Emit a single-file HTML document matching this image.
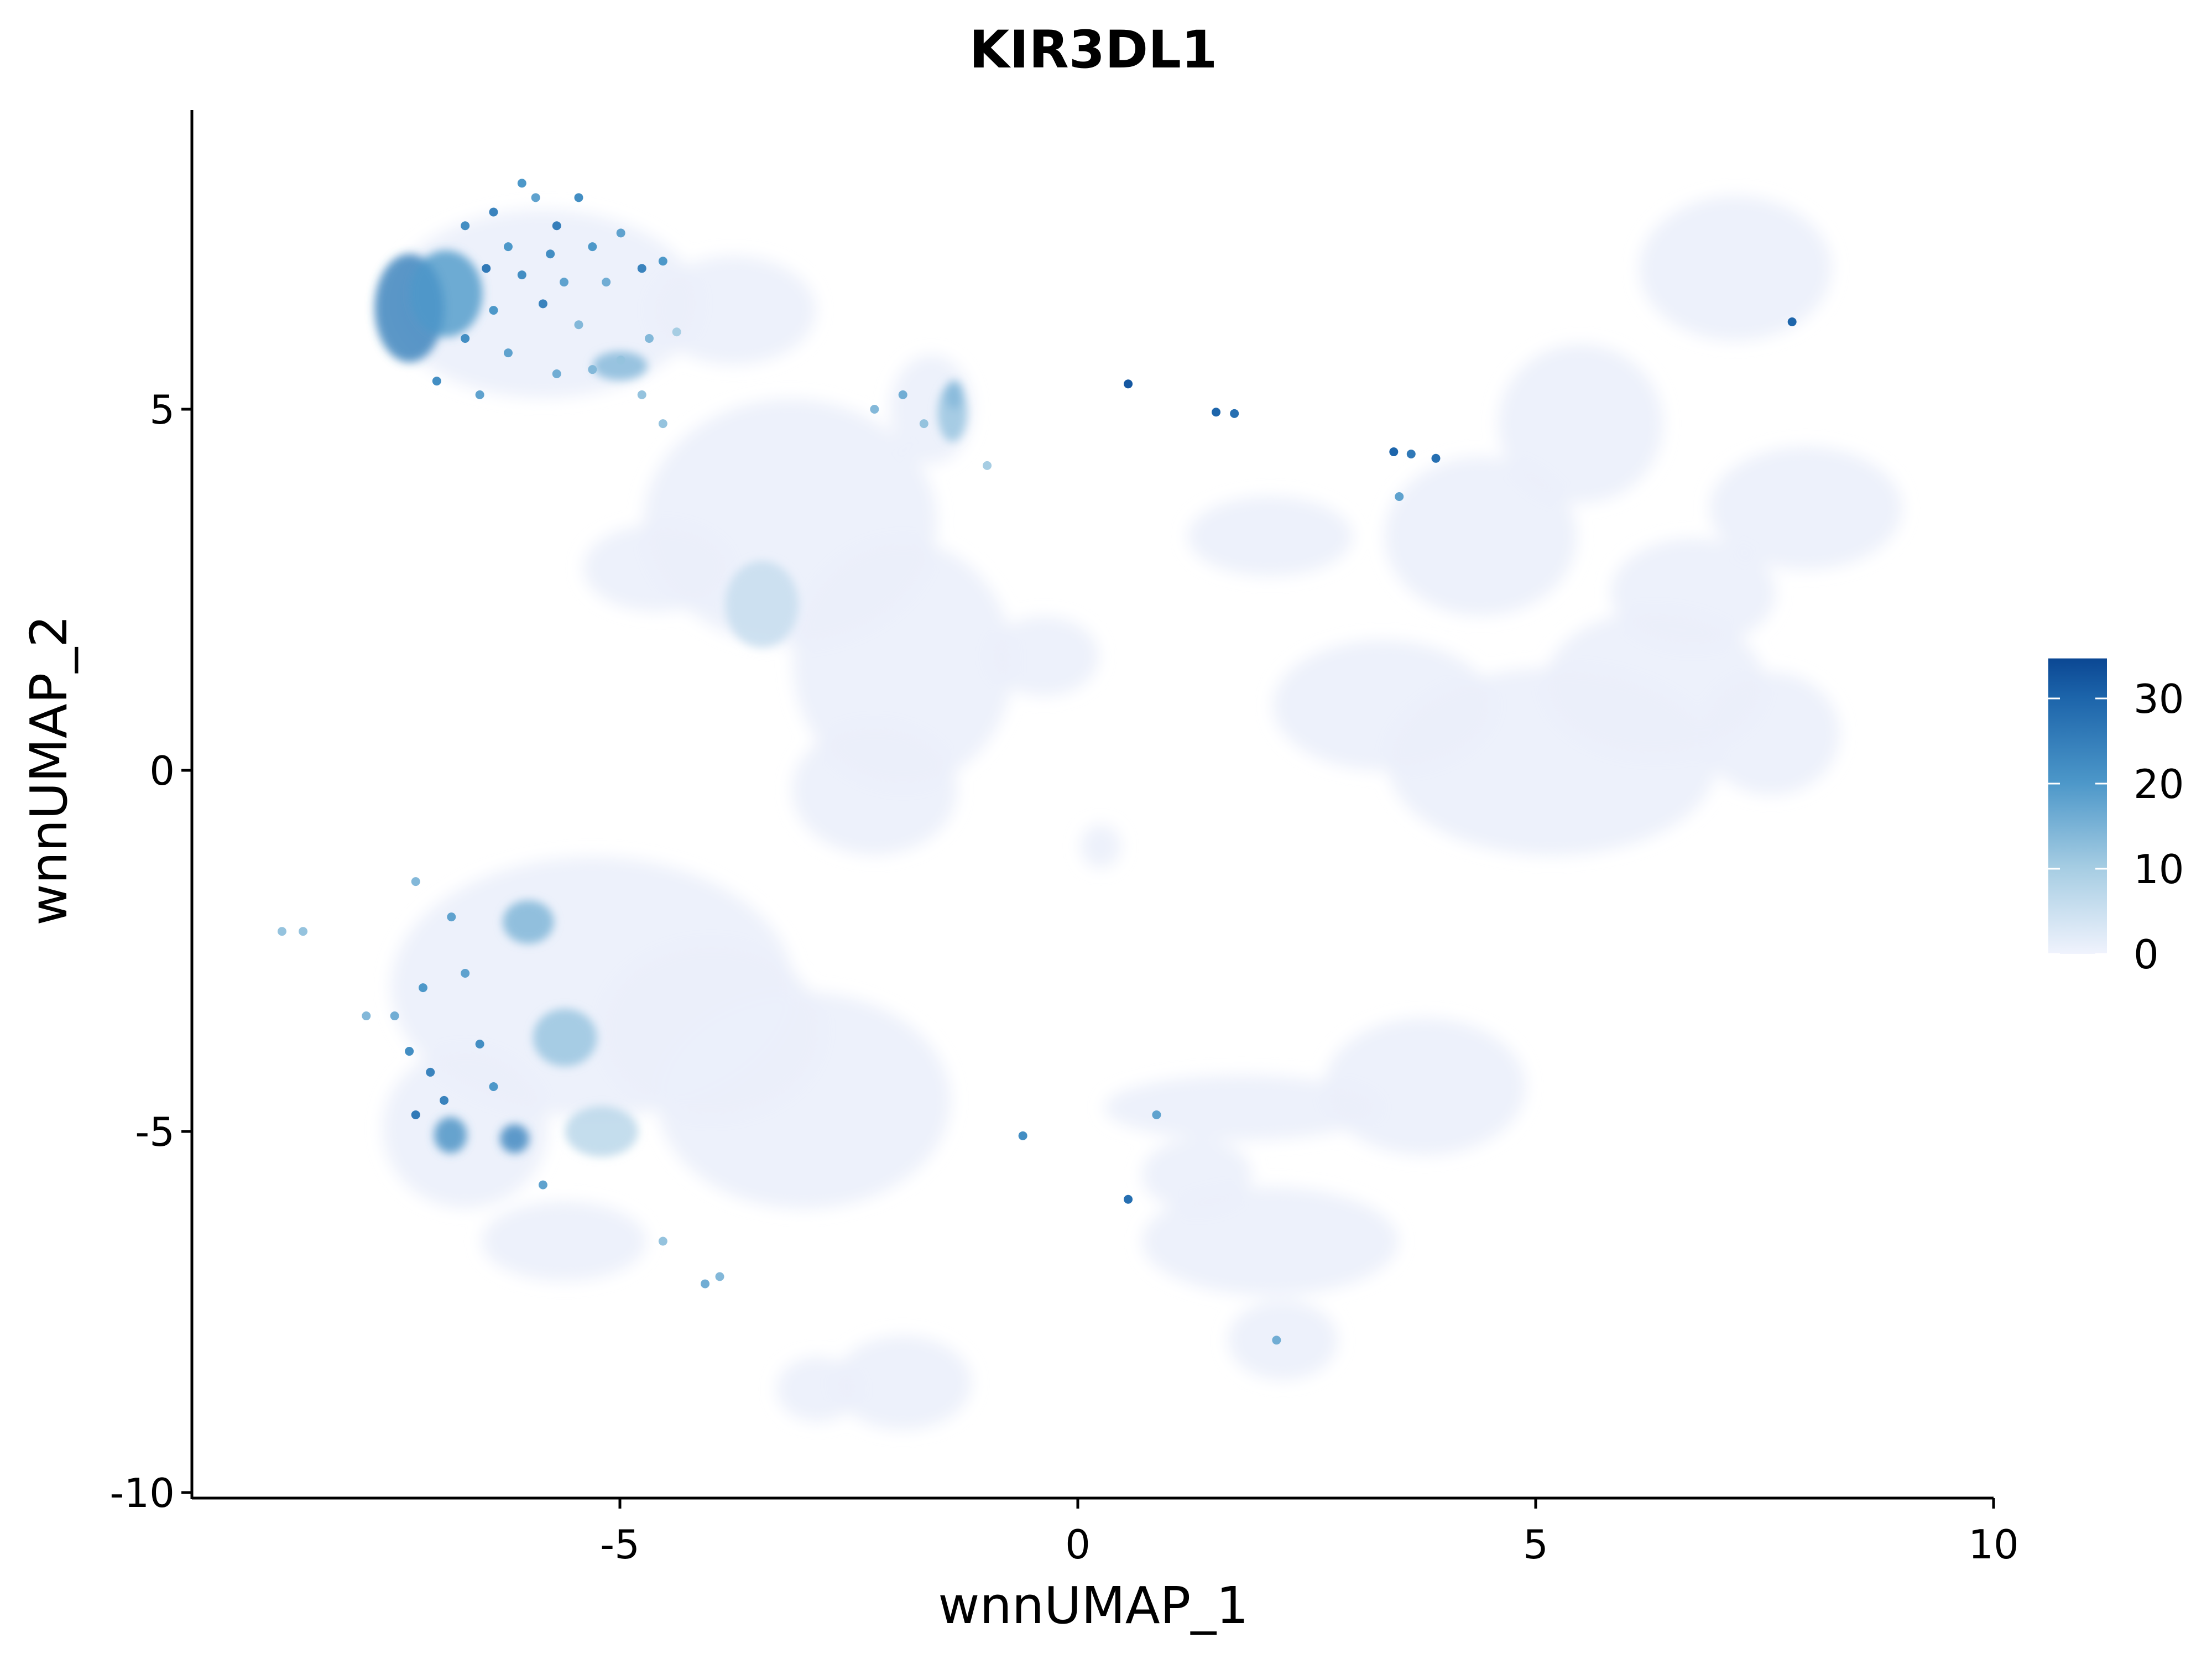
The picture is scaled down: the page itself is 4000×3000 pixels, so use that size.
<!DOCTYPE html>
<html><head><meta charset="utf-8"><style>
html,body{margin:0;padding:0;background:#fff}
svg{display:block}
text{font-family:"DejaVu Sans","Liberation Sans",sans-serif;fill:#000}
</style></head><body>
<svg id="chart" width="4000" height="3000" viewBox="0 0 4000 3000">
<defs>
<linearGradient id="cbar" x1="0" y1="1" x2="0" y2="0">
<stop offset="0" stop-color="#f0f3fd"/><stop offset="0.29" stop-color="#a6cde3"/>
<stop offset="0.58" stop-color="#4c97c9"/><stop offset="0.87" stop-color="#1c64aa"/><stop offset="1" stop-color="#0b4793"/>
</linearGradient>
<filter id="soft" x="-20%" y="-20%" width="140%" height="140%"><feGaussianBlur stdDeviation="14"/></filter>
<filter id="soft2" x="-30%" y="-30%" width="160%" height="160%"><feGaussianBlur stdDeviation="8"/></filter>
</defs>
<text x="1977" y="122" text-anchor="middle" font-size="94" font-weight="bold">KIR3DL1</text>
<g id="bg" filter="url(#soft)"></g>
<g id="hot" filter="url(#soft2)"></g>
<g id="pts"></g>
<g id="axes"></g>
<text x="1977" y="2935" text-anchor="middle" font-size="92">wnnUMAP_1</text>
<text transform="translate(120,1393) rotate(-90)" text-anchor="middle" font-size="92">wnnUMAP_2</text>
<g id="legend"></g>
</svg>
<script>
const xTicks=[-5,0,5,10];
const yTicks=[5,0,-5,-10];
const legendTicks=[0,10,20,30];
const legendMax=34.7;
// background clusters: x, y, rx, ry (data units)
const bgX=[-5.84,-3.14,-1.91,-2.22,-0.37,-1.6,-3.76,-4.6,7.18,7.95,5.18,7.57,3.33,5.49,6.72,2.1,4.4,-5.3,-2.99,-5.61,-1.91,-2.84,-6.69,-4.0,3.79,1.79,2.1,2.24,0.25,6.3,1.3];
const bgY=[6.46,3.44,1.48,-0.27,1.58,5.0,6.37,2.8,6.95,3.63,0.12,0.51,0.9,4.8,2.46,3.24,3.24,-3.0,-4.57,-6.52,-8.48,-8.57,-4.96,-3.6,-4.38,-4.67,-6.52,-7.89,-1.05,1.2,-5.6];
const bgRx=[1.7,1.6,1.2,0.9,0.6,0.45,0.9,0.8,1.05,1.05,1.8,0.75,1.2,0.9,0.9,0.9,1.05,2.2,1.6,0.9,0.75,0.45,0.9,1.2,1.1,1.5,1.4,0.6,0.22,1.2,0.6];
const bgRy=[1.3,1.7,1.7,0.9,0.55,0.75,0.75,0.6,1.0,0.85,1.3,0.85,0.9,1.1,0.75,0.55,1.1,1.8,1.5,0.55,0.65,0.45,1.1,1.2,0.95,0.45,0.75,0.55,0.3,1.0,0.5];
// expression hotspots: x, y, rx, ry, value
const hotX=[-7.3,-6.9,-6.0,-5.6,-6.85,-6.15,-5.2,-3.45,-1.37,-5.0,-1.35];
const hotY=[6.4,6.6,-2.1,-3.7,-5.05,-5.1,-5.0,2.3,4.95,5.6,5.2];
const hotRx=[0.38,0.4,0.28,0.35,0.18,0.16,0.4,0.4,0.16,0.3,0.1];
const hotRy=[0.75,0.6,0.3,0.4,0.25,0.2,0.35,0.6,0.4,0.2,0.2];
const hotV=[25,20,15,12,22,24,8,6,12,14,14];
// individual expressing cells: x, y, value
const ptX=[-6.69,-6.38,-6.22,-5.92,-5.69,-5.45,-5.30,-4.99,-4.76,-4.53,-6.46,-6.07,-5.61,-5.15,-5.84,-6.38,-5.45,-6.69,-6.22,-5.69,-5.30,-4.99,-4.68,-4.38,-4.76,-7.00,-6.53,-4.53,-1.91,-1.68,-0.99,-2.22,-6.07,-5.76,
 -7.23,-6.84,-7.15,-7.30,-7.07,-7.46,-6.69,-6.53,-6.92,-6.38,-5.84,-4.07,-3.91,-4.53,-7.23,-7.77,-8.69,-8.46,
 0.55,1.51,1.71,3.45,3.64,3.91,3.51,7.80,0.55,0.86,-0.60,2.17];
const ptY=[7.54,7.73,7.25,7.93,7.54,7.93,7.25,7.44,6.95,7.05,6.95,6.86,6.76,6.76,6.46,6.37,6.17,5.98,5.78,5.49,5.55,5.68,5.98,6.07,5.20,5.39,5.20,4.80,5.20,4.80,4.22,5.00,8.13,7.15,
 -1.54,-2.03,-3.01,-3.89,-4.18,-3.40,-2.81,-3.79,-4.57,-4.38,-5.74,-7.11,-7.01,-6.52,-4.77,-3.40,-2.23,-2.23,
 5.35,4.96,4.94,4.41,4.38,4.32,3.79,6.21,-5.94,-4.77,-5.06,-7.89];
const ptV=[22,24,20,18,25,22,20,18,24,20,26,22,18,16,24,20,14,22,18,16,14,12,14,10,12,22,18,12,16,12,10,14,20,22,
 14,18,20,22,24,16,18,22,24,20,18,16,14,12,26,14,12,12,
 32,30,28,30,26,28,18,30,28,18,22,16];

const X0=1949,XS=165.6,Y0=1393,YS=130.6;
const sx=v=>X0+v*XS, sy=v=>Y0-v*YS;
const NS='http://www.w3.org/2000/svg';
function mk(tag,attrs,parent){const e=document.createElementNS(NS,tag);for(const k in attrs)e.setAttribute(k,attrs[k]);parent.appendChild(e);return e;}
function color(v){const t=Math.max(0,Math.min(1,v/legendMax));
 const stops=[[0,[240,243,253]],[0.29,[166,205,227]],[0.58,[76,151,201]],[0.87,[28,100,170]],[1,[11,71,147]]];
 for(let i=1;i<stops.length;i++){if(t<=stops[i][0]){const a=stops[i-1],b=stops[i],f=(t-a[0])/(b[0]-a[0]);
 return 'rgb('+a[1].map((c,j)=>Math.round(c+(b[1][j]-c)*f)).join(',')+')';}}return 'rgb(11,71,147)';}
const bg=document.getElementById('bg');
bgX.forEach((x,i)=>{const e=mk('ellipse',{cx:sx(x),cy:sy(bgY[i]),rx:bgRx[i]*XS,ry:bgRy[i]*YS,fill:'#ebf0fb','fill-opacity':0.9},bg);

});
const hot=document.getElementById('hot');
hotX.forEach((x,i)=>{const e=mk('ellipse',{cx:sx(x),cy:sy(hotY[i]),rx:hotRx[i]*XS,ry:hotRy[i]*YS,fill:color(hotV[i]),'fill-opacity':0.8},hot);

});
const pts=document.getElementById('pts');
ptX.forEach((x,i)=>{const e=mk('circle',{cx:sx(x),cy:sy(ptY[i]),r:8,fill:color(ptV[i])},pts);

});
const ax=document.getElementById('axes');
mk('line',{x1:347,y1:2709,x2:3605,y2:2709,stroke:'#000','stroke-width':5},ax);
mk('line',{x1:347,y1:199,x2:347,y2:2711,stroke:'#000','stroke-width':5},ax);
xTicks.forEach(t=>{mk('line',{x1:sx(t),x2:sx(t),y1:2709,y2:2728,stroke:'#000','stroke-width':5},ax);
const l=mk('text',{x:sx(t),y:2818,'text-anchor':'middle','font-size':72},ax);l.textContent=t;

});
yTicks.forEach(t=>{mk('line',{x1:328,x2:347,y1:sy(t),y2:sy(t),stroke:'#000','stroke-width':5},ax);
const l=mk('text',{x:316,y:sy(t)+26,'text-anchor':'end','font-size':72},ax);l.textContent=t;

});
const lg=document.getElementById('legend');
const LB=1725,LS=15.4;
mk('rect',{x:3704,y:LB-legendMax*LS,width:106,height:legendMax*LS,fill:'url(#cbar)'},lg);
legendTicks.forEach(t=>{const y=LB-t*LS;
mk('line',{x1:3704,x2:3725,y1:y,y2:y,stroke:'#fff','stroke-width':3},lg);
mk('line',{x1:3789,x2:3810,y1:y,y2:y,stroke:'#fff','stroke-width':3},lg);
const l=mk('text',{x:3858,y:y+26,'font-size':72},lg);l.textContent=t;

});
</script>
</body></html>
